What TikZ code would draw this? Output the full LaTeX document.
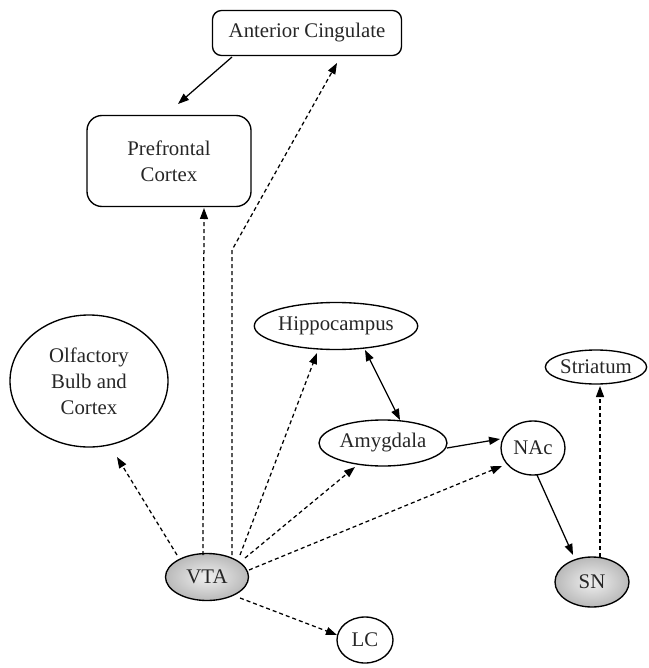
\documentclass[tikz,border=0pt]{standalone}
\usepackage{fontspec}
\setmainfont{Liberation Serif}
\usetikzlibrary{shapes.geometric,arrows.meta}
\begin{document}
\begin{tikzpicture}[x=1pt,y=-1pt,
  every node/.style={font=\fontsize{20.8}{26}\selectfont, inner sep=0pt, align=center, text=black!85},
  area/.style={draw, line width=1.35pt, ellipse},
  boxed/.style={draw, line width=1.35pt, rectangle},
  shadedarea/.style={area, inner color=gray!12, outer color=gray!55},
  link/.style={line width=1.25pt, -{Triangle[length=11pt,width=8pt]}},
  dlink/.style={link, dash pattern=on 4pt off 3pt},
]
\useasboundingbox (0,0) rectangle (648,668);

% regions
\node[boxed, rounded corners=9pt, minimum width=189pt, minimum height=45pt] (AC) at (307,33) {Anterior Cingulate};
\node[boxed, rounded corners=15pt, minimum width=164pt, minimum height=91pt] (PFC) at (169,161) {Prefrontal\\Cortex};
\node[area, minimum width=158pt, minimum height=132pt] (Olf) at (89,381) {Olfactory\\Bulb and\\Cortex};
\node[area, minimum width=142pt, minimum height=47pt] (Hip) at (336,326) {Hippocampus};
\node[area, minimum width=99pt, minimum height=34pt] (Str) at (596,367) {Striatum};
\node[area, minimum width=128pt, minimum height=46pt] (Amy) at (383,443) {Amygdala};
\node[area, minimum width=64pt, minimum height=54pt] (NAc) at (533,448) {NAc};
\node[shadedarea, minimum width=83pt, minimum height=47pt] (VTA) at (207,577) {VTA};
\node[shadedarea, minimum width=74pt, minimum height=50pt] (SN) at (592,582) {SN};
\node[area, minimum width=56pt, minimum height=46pt] (LC) at (365,640) {LC};

% bend of the long projection to the cingulate
\coordinate (bend) at ([shift={(25,-327)}]VTA.center);

% solid connections
\draw[link] ([shift={(-75,24)}]AC.center) -- ([shift={(9,-57)}]PFC.center);
\draw[link, {Triangle[length=11pt,width=8pt]}-{Triangle[length=11pt,width=8pt]}]
  ([shift={(29,24)}]Hip.center) -- ([shift={(17,-23)}]Amy.center);
\draw[link] ([shift={(64,5)}]Amy.center) -- ([shift={(-33,-9)}]NAc.center);
\draw[link] ([shift={(4,27)}]NAc.center) -- ([shift={(-19,-27)}]SN.center);

% dashed projections
\draw[dlink] ([shift={(-30,-22)}]VTA.center) -- ([shift={(28,76)}]Olf.center);
\draw[dlink] ([shift={(-4,-22)}]VTA.center) -- ([shift={(35,47)}]PFC.center);
\draw[dlink] ([shift={(25,-22)}]VTA.center) -- (bend) -- ([shift={(30,30)}]AC.center);
\draw[dlink] ([shift={(33,-22)}]VTA.center) -- ([shift={(-19,27)}]Hip.center);
\draw[dlink] ([shift={(38,-19)}]VTA.center) -- ([shift={(-28,24)}]Amy.center);
\draw[dlink] ([shift={(42,-7)}]VTA.center) -- ([shift={(-31,18)}]NAc.center);
\draw[dlink] ([shift={(33,21)}]VTA.center) -- ([shift={(-28,-5)}]LC.center);
\draw[dlink] ([shift={(8,-25)}]SN.center) -- ([shift={(4,19)}]Str.center);
\end{tikzpicture}
\end{document}
